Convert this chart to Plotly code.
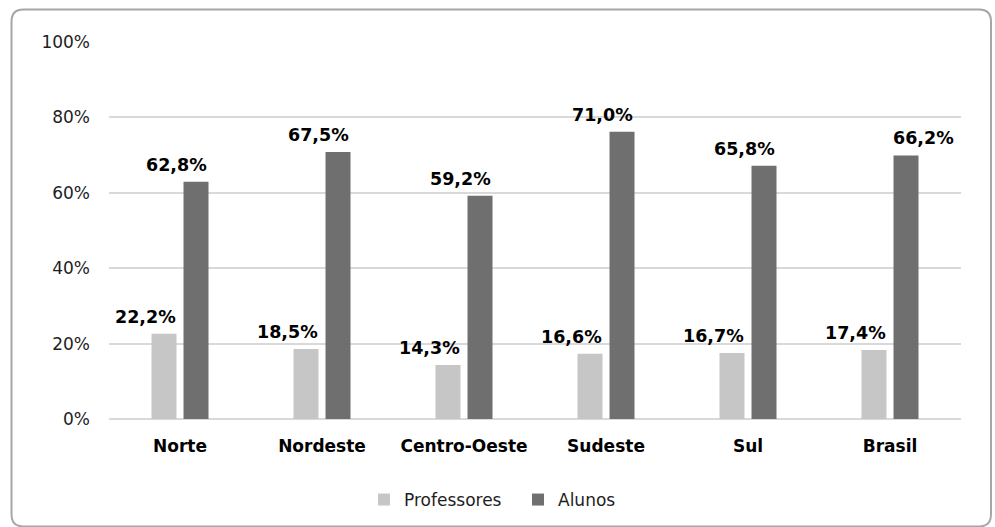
import plotly.graph_objects as go

categories = ["Norte", "Nordeste", "Centro-Oeste", "Sudeste", "Sul", "Brasil"]
series_names = ["Professores", "Alunos"]
# bar heights as drawn in the reference (fraction of 100%)
professores = [0.226, 0.186, 0.143, 0.173, 0.175, 0.183]
alunos = [0.629, 0.708, 0.592, 0.762, 0.672, 0.699]
# printed value labels
professores_labels = ["22,2%", "18,5%", "14,3%", "16,6%", "16,7%", "17,4%"]
alunos_labels = ["62,8%", "67,5%", "59,2%", "71,0%", "65,8%", "66,2%"]
y_tickvals = [0, 0.2, 0.4, 0.6, 0.8, 1.0]
y_ticktext = ["0%", "20%", "40%", "60%", "80%", "100%"]

# style
W, H = 995, 527
ML, MR, MT, MB = 109, 34, 42, 108
PW, PH = W - ML - MR, H - MT - MB
FONT = "DejaVu Sans"
prof_color = "#c6c6c6"
alunos_color = "#6f6f6f"
prof_label_shift = [-35] * 6
alunos_label_shift = [-3.5, -3.5, -3.5, -3.5, -3.5, 33]

fig = go.Figure()
fig.add_trace(go.Bar(x=categories, y=professores, name=series_names[0],
                     marker=dict(color=prof_color, line=dict(width=0))))
fig.add_trace(go.Bar(x=categories, y=alunos, name=series_names[1],
                     marker=dict(color=alunos_color, line=dict(width=0))))

label_font = dict(family=FONT, size=17.5, color="#000000", weight="bold")
annotations = []
for cat, v, t, dx in zip(categories, professores, professores_labels, prof_label_shift):
    annotations.append(dict(x=cat, y=v, text=t, showarrow=False, xshift=dx, yshift=5,
                            yanchor="bottom", font=label_font))
for cat, v, t, dx in zip(categories, alunos, alunos_labels, alunos_label_shift):
    annotations.append(dict(x=cat, y=v, text=t, showarrow=False, xshift=dx, yshift=5,
                            yanchor="bottom", font=label_font))

# rounded border in paper coordinates
def px(x):
    return (x - ML) / PW

def py(y):
    return (H - MB - y) / PH

x0, x1, y0, y1, r = 11.5, 991, 9.5, 526.5, 12
path = (f"M {px(x0+r)},{py(y0)} L {px(x1-r)},{py(y0)} Q {px(x1)},{py(y0)} {px(x1)},{py(y0+r)} "
        f"L {px(x1)},{py(y1-r)} Q {px(x1)},{py(y1)} {px(x1-r)},{py(y1)} "
        f"L {px(x0+r)},{py(y1)} Q {px(x0)},{py(y1)} {px(x0)},{py(y1-r)} "
        f"L {px(x0)},{py(y0+r)} Q {px(x0)},{py(y0)} {px(x0+r)},{py(y0)} Z")

fig.update_layout(
    width=W, height=H,
    margin=dict(l=ML, r=MR, t=MT, b=MB, pad=0),
    paper_bgcolor="white", plot_bgcolor="white",
    barmode="group", bargap=0.549, bargroupgap=0.219,
    font=dict(family=FONT, size=17, color="#1e1e1e"),
    annotations=annotations,
    shapes=[dict(type="path", path=path, xref="paper", yref="paper",
                 line=dict(color="#a6a6a6", width=2), fillcolor="rgba(0,0,0,0)", layer="below")],
    legend=dict(orientation="h", xref="container", yref="container",
                x=364 / W, xanchor="left", y=1 - 500 / H, yanchor="middle",
                entrywidth=109, entrywidthmode="pixels",
                font=dict(family=FONT, size=17, color="#1e1e1e"),
                traceorder="normal", itemclick=False, itemdoubleclick=False),
    xaxis=dict(showgrid=False, showline=False, zeroline=False, ticks="",
               tickfont=dict(family=FONT, size=17, color="#000000", weight="bold"),
               ticklabelstandoff=15, fixedrange=True),
    yaxis=dict(range=[0, 1.0], tickvals=y_tickvals, ticktext=y_ticktext,
               showgrid=True, gridcolor="#d9d9d9", gridwidth=1.5,
               zeroline=True, zerolinecolor="#d9d9d9", zerolinewidth=1.5,
               showline=False, ticks="", ticklabelstandoff=18,
               tickfont=dict(family=FONT, size=17, color="#1e1e1e"), fixedrange=True),
)

fig.write_html("out.html", config={"displayModeBar": False},
               post_script="document.body.style.margin='0';")
